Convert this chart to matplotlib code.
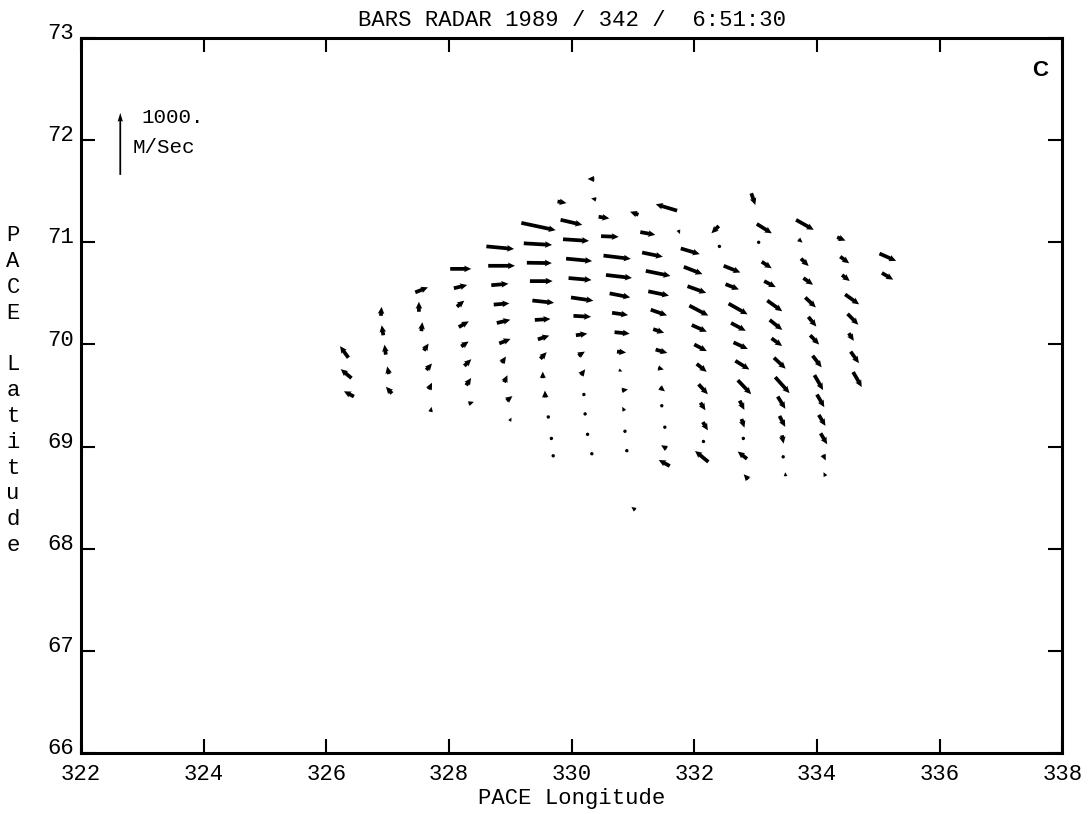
import matplotlib
matplotlib.use("Agg")
import matplotlib.pyplot as plt
import matplotlib.transforms as mtransforms

plt.rcParams['font.family'] = ['Liberation Mono', 'DejaVu Sans Mono']

# one line per radar beam (tail positions, east / north velocity in m/s)
lon = [326.36, 326.41, 326.45,
       326.89, 326.93, 326.97, 327.02, 327.07,
       327.45, 327.51, 327.55, 327.59, 327.63, 327.67, 327.70,
       328.02, 328.08, 328.13, 328.16, 328.20, 328.25, 328.28, 328.32,
       328.61, 328.64, 328.69, 328.73, 328.78, 328.82, 328.86, 328.90, 328.94, 328.99,
       329.18, 329.22, 329.27, 329.32, 329.36, 329.40, 329.45, 329.49, 329.53, 329.57, 329.62, 329.67, 329.70,
       329.77, 329.82, 329.86, 329.91, 329.95, 329.99, 330.03, 330.07, 330.11, 330.15, 330.20, 330.22, 330.26, 330.33,
       330.37, 330.40, 330.44, 330.48, 330.52, 330.56, 330.62, 330.66, 330.70, 330.74, 330.77, 330.82, 330.86, 330.87, 330.90,
       331.04,
       331.09, 331.12, 331.15, 331.21, 331.25, 331.29, 331.33, 331.37, 331.41, 331.44, 331.47, 331.52, 331.55, 331.60,
       331.72, 331.74, 331.78, 331.83, 331.89, 331.92, 331.96, 332.00, 332.04, 332.07, 332.10, 332.14, 332.15, 332.23,
       332.40, 332.41, 332.48, 332.51, 332.56, 332.60, 332.64, 332.67, 332.71, 332.74, 332.77, 332.80, 332.86, 332.88,
       332.93, 333.02, 333.05, 333.10, 333.14, 333.19, 333.23, 333.26, 333.30, 333.32, 333.36, 333.39, 333.43, 333.45, 333.49,
       333.66, 333.70, 333.74, 333.78, 333.81, 333.86, 333.89, 333.93, 333.96, 334.00, 334.03, 334.06, 334.10, 334.14,
       334.33, 334.38, 334.41, 334.46, 334.50, 334.52, 334.55, 334.59,
       335.02, 335.06]

lat = [69.87, 69.67, 69.49,
       70.28, 70.09, 69.90, 69.71, 69.52,
       70.51, 70.32, 70.13, 69.94, 69.75, 69.56, 69.34,
       70.74, 70.55, 70.37, 70.17, 69.98, 69.79, 69.60, 69.42,
       70.96, 70.77, 70.58, 70.39, 70.21, 70.01, 69.82, 69.63, 69.45, 69.25,
       71.19, 70.99, 70.80, 70.62, 70.43, 70.24, 70.05, 69.86, 69.67, 69.48, 69.29, 69.08, 68.91,
       71.40, 71.22, 71.03, 70.84, 70.65, 70.46, 70.28, 70.09, 69.89, 69.70, 69.51, 69.32, 69.12, 68.93,
       71.62, 71.42, 71.25, 71.06, 70.87, 70.68, 70.50, 70.31, 70.12, 69.93, 69.75, 69.55, 69.35, 69.15, 68.96,
       68.38,
       71.27, 71.10, 70.90, 70.72, 70.52, 70.34, 70.15, 69.95, 69.77, 69.58, 69.40, 69.19, 68.98, 68.81,
       71.31, 71.12, 70.94, 70.76, 70.57, 70.38, 70.19, 70.00, 69.81, 69.61, 69.43, 69.24, 69.05, 68.85,
       71.16, 70.96, 70.77, 70.59, 70.40, 70.21, 70.02, 69.84, 69.65, 69.45, 69.27, 69.08, 68.88, 68.68,
       71.48, 71.18, 71.00, 70.81, 70.62, 70.43, 70.24, 70.06, 69.87, 69.68, 69.49, 69.30, 69.11, 68.90, 68.71,
       71.22, 71.03, 70.84, 70.65, 70.46, 70.27, 70.09, 69.89, 69.70, 69.51, 69.31, 69.13, 68.92, 68.71,
       71.05, 70.86, 70.68, 70.49, 70.30, 70.11, 69.93, 69.73,
       70.89, 70.70]

v_east = [-135, -173, -161,
          11, -27, -21, -27, -97,
          205, 0, 16, 77, 92, 53, 16,
          339, 215, 118, 161, 119, 113, 81, 85,
          447, 431, 277, 252, 218, 182, 69, 53, 94, 29,
          553, 456, 403, 366, 350, 252, 184, 102, 0, -5, 24, 32, -48,
          145, 350, 419, 419, 371, 361, 284, 184, 105, 71, 5, 5, 0, -48,
          -108, -81, 173, 285, 440, 419, 332, 258, 245, 147, 56, 97, -35, -24, -48,
          -65,
          -135, 242, 334, 397, 334, 263, 177, 189, 92, 81, 24, 8, -90, -177,
          -344, 27, 306, 300, 302, 306, 242, 203, 161, 150, 81, 81, 32, -215,
          -119, 32, 269, 216, 306, 237, 231, 226, 215, 76, 48, 8, -150, -73,
          65, 242, 32, 161, 187, 242, 203, 171, 189, 231, 124, 92, 27, -16, -8,
          285, 65, 124, 156, 171, 129, 145, 145, 139, 119, 108, 106, 44, -32,
          135, 145, 124, 226, 173, 81, 134, 140,
          269, 182]

v_north = [187, 145, 85,
           145, 161, 161, 123, 108,
           81, 161, 145, 113, 105, 108, 81,
           0, 53, 97, 92, 81, 108, 118, 29,
           -42, 0, 24, 21, 53, 73, 102, 113, 73, 56,
           -118, -26, -6, 0, -37, 16, 60, 106, 105, 113, 40, 32, 16,
           -26, -81, -27, -39, -32, -53, -16, 26, 66, 94, 56, 40, 48, 16,
           0, 16, -26, -11, -53, -48, -65, -37, -24, -16, -24, 16, 65, 24, 16,
           48,
           48, -44, -69, -81, -69, -92, -60, -55, -26, -65, -40, 24, 55, 97,
           103, -65, -92, -118, -108, -161, -108, -108, -129, -161, -123, -134, -32, 177,
           -118, -32, -108, -85, -173, -126, -106, -140, -226, -150, -140, -56, 118, 81,
           -189, -152, -32, -106, -97, -173, -161, -124, -177, -258, -198, -177, -134, 40, 65,
           -161, -55, -119, -108, -161, -156, -150, -189, -242, -205, -177, -177, -92, 65,
           -55, -108, -97, -161, -177, -124, -187, -242,
           -119, -108]

x_ticks = list(range(322, 339, 2))
y_ticks = list(range(66, 74))
ref_speed = 1000

fig = plt.figure(figsize=(10.89, 8.14), dpi=100)
ax = fig.add_axes([0.0744, 0.0749, 0.901, 0.8784])

# 1000 m/s ~ 62 pixels
px_scale = 1000 / 62.0
ax.quiver(lon, lat, v_east, v_north, angles='uv', scale_units='dots', scale=px_scale,
          pivot='tail', width=0.0038, headwidth=1.8, headlength=1.9, headaxislength=1.7,
          color='black')

# reference arrow
ax.quiver([322.64], [71.66], [0], [ref_speed], angles='uv', scale_units='dots', scale=px_scale,
          pivot='tail', width=0.0018, headwidth=3, headlength=5, headaxislength=4.5,
          color='black')
ax.text(322.98, 72.22, "1000.", fontsize=15, ha='left', va='center')
ax.text(322.84, 71.93, "M/Sec", fontsize=15, ha='left', va='center')

ax.set_xlim(322, 338)
ax.set_ylim(66, 73)
ax.set_xticks(x_ticks)
ax.set_yticks(y_ticks)
ax.tick_params(direction='in', length=10, width=1.5, labelsize=16,
               top=True, right=True)
ax.tick_params(axis='x', pad=8)
ax.tick_params(axis='y', pad=5)
for sp in ax.spines.values():
    sp.set_linewidth(2.2)

# y labels sit a little above their ticks
offset = mtransforms.ScaledTranslation(0, 5 / 72.0, fig.dpi_scale_trans)
for lab in ax.get_yticklabels():
    lab.set_transform(lab.get_transform() + offset)

ax.set_title("BARS RADAR 1989 / 342 /  6:51:30", fontsize=16, pad=9)
ax.set_xlabel("PACE Longitude", fontsize=16, labelpad=2)
fig.text(0.012, 0.52, "\n".join("PACE Latitude"), fontsize=16,
         ha='center', va='center', linespacing=1.3)

ax.text(0.978, 0.955, "C", transform=ax.transAxes, ha='center', va='center',
        fontsize=16, fontweight='bold', family='Liberation Sans')

fig.savefig("out.png", dpi=100)
